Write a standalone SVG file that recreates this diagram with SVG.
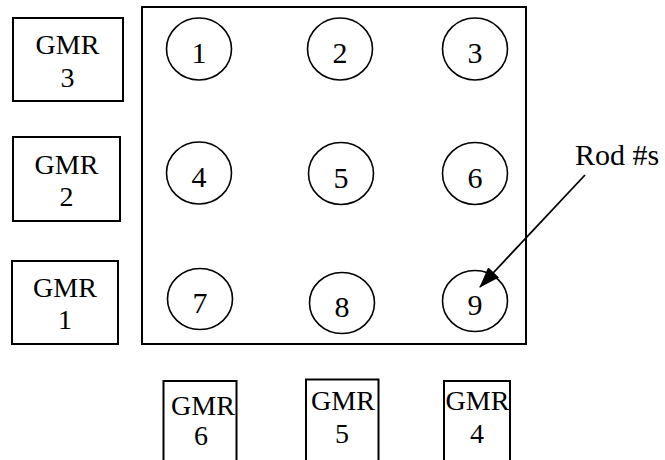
<svg xmlns="http://www.w3.org/2000/svg" width="665" height="460" viewBox="0 0 665 460">
  <style>
    .box { fill: #fff; stroke: #000; stroke-width: 2; }
    .rod { fill: #fff; stroke: #000; stroke-width: 1.6; }
    .t { font-family: "Liberation Serif", "Times New Roman", serif; font-size: 28px; fill: #000; text-anchor: middle; }
    .n { font-family: "Liberation Serif", "Times New Roman", serif; font-size: 30px; fill: #000; text-anchor: middle; }
    .lbl { font-family: "Liberation Serif", "Times New Roman", serif; font-size: 30px; fill: #000; }
    .arr { stroke: #000; stroke-width: 1.8; fill: none; }
  </style>
  <defs>
    <marker id="head" markerWidth="21" markerHeight="15" refX="20" refY="7.5" orient="auto" markerUnits="userSpaceOnUse" viewBox="0 0 21 15">
      <path d="M0,0 L21,7.5 L0,15 Z" fill="#000"/>
    </marker>
  </defs>

  <!-- fuel assembly outline -->
  <g id="assembly">
    <rect class="box" x="142" y="7" width="384" height="337"/>
  </g>

  <!-- rods -->
  <g id="rod1"><ellipse class="rod" cx="199" cy="49" rx="32.5" ry="31"/><text class="n" x="199" y="63">1</text></g>
  <g id="rod2"><ellipse class="rod" cx="340" cy="49" rx="32.5" ry="31"/><text class="n" x="340" y="63">2</text></g>
  <g id="rod3"><ellipse class="rod" cx="475" cy="49" rx="32.5" ry="31"/><text class="n" x="475" y="63">3</text></g>
  <g id="rod4"><ellipse class="rod" cx="199" cy="173" rx="32.5" ry="31"/><text class="n" x="199" y="187">4</text></g>
  <g id="rod5"><ellipse class="rod" cx="341" cy="173.5" rx="32.5" ry="31"/><text class="n" x="341" y="187.5">5</text></g>
  <g id="rod6"><ellipse class="rod" cx="475" cy="173.5" rx="32.5" ry="31"/><text class="n" x="475" y="187.5">6</text></g>
  <g id="rod7"><ellipse class="rod" cx="200" cy="299" rx="32.5" ry="30.5"/><text class="n" x="200" y="313">7</text></g>
  <g id="rod8"><ellipse class="rod" cx="342" cy="303" rx="32.5" ry="30.5"/><text class="n" x="342" y="317">8</text></g>
  <g id="rod9"><ellipse class="rod" cx="475" cy="301" rx="32.5" ry="30.5"/><text class="n" x="475" y="315">9</text></g>

  <!-- GMR sensors, left side -->
  <g id="gmr3"><rect class="box" x="13" y="18" width="110" height="83"/><text class="t" x="67.5" y="54">GMR</text><text class="t" x="67.5" y="87">3</text></g>
  <g id="gmr2"><rect class="box" x="13" y="137" width="107" height="84"/><text class="t" x="66.5" y="174">GMR</text><text class="t" x="66.5" y="206">2</text></g>
  <g id="gmr1"><rect class="box" x="12" y="261" width="106" height="83"/><text class="t" x="65" y="297">GMR</text><text class="t" x="65" y="329">1</text></g>

  <!-- GMR sensors, bottom -->
  <g id="gmr6"><rect class="box" x="163.5" y="381" width="73" height="80"/><text class="t" x="203" y="415">GMR</text><text class="t" x="201" y="445">6</text></g>
  <g id="gmr5"><rect class="box" x="306" y="379.5" width="72.5" height="82"/><text class="t" x="343" y="410">GMR</text><text class="t" x="342" y="443">5</text></g>
  <g id="gmr4"><rect class="box" x="444" y="381" width="66" height="80"/><text class="t" x="477.5" y="410">GMR</text><text class="t" x="477" y="443">4</text></g>

  <!-- label and pointer -->
  <g id="label"><text class="lbl" x="575" y="165">Rod #s</text></g>
  <g id="connectors">
    <line class="arr" x1="585" y1="175" x2="480" y2="287" marker-end="url(#head)"/>
  </g>
</svg>
